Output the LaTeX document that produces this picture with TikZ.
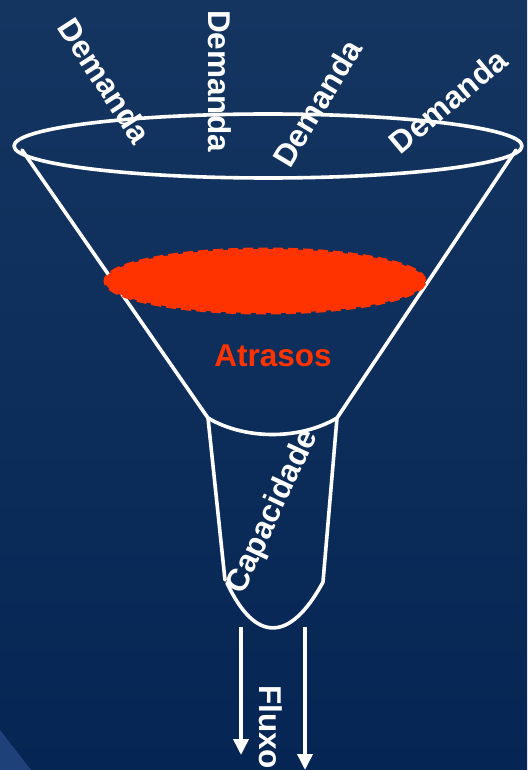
\documentclass[tikz,border=0pt]{standalone}
\usepackage{fontspec}
\setmainfont{Liberation Sans}
\usetikzlibrary{arrows.meta}
\definecolor{bgtop}{RGB}{21,53,97}
\definecolor{bgbot}{RGB}{5,38,84}
\definecolor{delayred}{RGB}{255,51,0}
\definecolor{corner}{RGB}{38,72,132}
\tikzset{
  funnel/.style={draw=white,line width=3.6pt,line join=round,line cap=round},
  lbl/.style={text=white,font=\fontsize{31.5}{37}\selectfont\bfseries,inner sep=0pt},
  flow/.style={draw=white,line width=3.6pt,-{Triangle[width=15pt,length=16pt]}}
}
\begin{document}
\begin{tikzpicture}[x=1pt,y=-1pt]
\useasboundingbox (0,0) rectangle (527,770);
\shade[top color=bgtop,bottom color=bgbot] (0,0) rectangle (527,770);
\fill[corner,opacity=0.8] (0,730) -- (31,770) -- (0,770) -- cycle;
% funnel
\draw[funnel] (268,146) ellipse [x radius=254pt,y radius=32pt];
\draw[funnel] (22,150) -- (208,418);
\draw[funnel] (516,150) -- (337,418);
\draw[funnel] (208,418) .. controls (245,440) and (300,440) .. (337,418);
\draw[funnel] (208,418) -- (225,580);
\draw[funnel] (337,418) -- (323,582);
\draw[funnel] (227,583) .. controls (255,643) and (290,643) .. (323,582);
% delays
\fill[delayred] (265,281) ellipse [x radius=160pt,y radius=32pt];
\draw[delayred,line width=3pt,dash pattern=on 10pt off 5pt] (265,281) ellipse [x radius=160pt,y radius=32pt];
\node[lbl,text=delayred] (atr) at (273,356) {Atrasos};
% demand labels
\node[lbl,rotate=-57] (d1) at (105,81) {Demanda};
\node[lbl,rotate=-90] (d2) at (220,81) {Demanda};
\node[lbl,rotate=59] (d3) at (317,103) {Demanda};
\node[lbl,rotate=40] (d4) at (448,101) {Demanda};
\node[lbl,rotate=65] (cap) at (273,512) {Capacidade};
% flow
\coordinate (f1s) at (241,627);
\coordinate (f1e) at (241,755);
\coordinate (f2s) at (305,627);
\coordinate (f2e) at (305,770);
\draw[flow] (f1s) -- (f1e);
\draw[flow] (f2s) -- (f2e);
\node[lbl,rotate=-90] (flx) at (271,727) {Fluxo};
\end{tikzpicture}
\end{document}
